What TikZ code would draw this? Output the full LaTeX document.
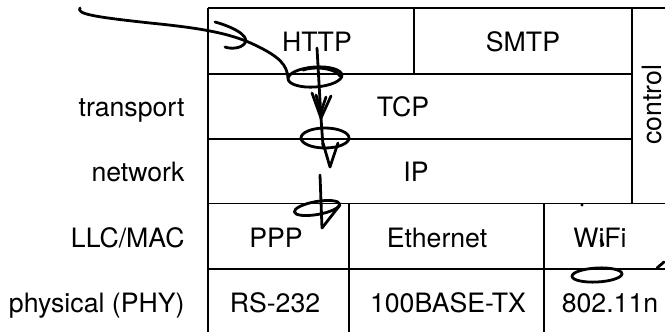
\documentclass[tikz,border=0pt]{standalone}
\usepackage{fontspec}
\setmainfont{TeX Gyre Heros}

\tikzset{every picture/.style={line width=0.75pt}}
\tikzset{
  grid/.style={line width=1.3pt},
  cell/.style={anchor=base,inner sep=0.75pt,font=\fontsize{20}{24}\selectfont},
  lbl/.style={anchor=base east,inner sep=0.75pt,font=\fontsize{20}{24}\selectfont},
  ink/.style={line width=2.1pt,line cap=round,line join=round}
}

\begin{document}
\begin{tikzpicture}[x=0.75pt,y=0.75pt,yscale=-1,xscale=1]
    \useasboundingbox (0,0) rectangle (665,332);
    \clip (0,0) rectangle (665,332);

    %Table Lines
    \draw [grid] (208,8) -- (700,8) ;
    \draw [grid] (208,8) -- (208,340) ;
    \draw [grid] (208,74) -- (632,74) ;
    \draw [grid] (208,139) -- (632,139) ;
    \draw [grid] (208,203.5) -- (700,203.5) ;
    \draw [grid] (208,269) -- (700,269) ;
    \draw [grid] (414,8) -- (414,74) ;
    \draw [grid] (632,8) -- (632,203.5) ;
    \draw [grid] (349,203.5) -- (349,340) ;
    \draw [grid] (544,203.5) -- (544,340) ;

    % Text Node
    \node [lbl] (transport) at (186,116.5) {transport};
    % Text Node
    \node [lbl] (network) at (186,181) {network};
    % Text Node
    \node [lbl] (llcmac) at (186,247) {LLC/MAC};
    % Text Node
    \node [lbl] (physical) at (186,312) {physical (PHY)};
    % Text Node
    \node [cell] (http) at (317,51.5) {HTTP};
    % Text Node
    \node [cell] (smtp) at (523,51.5) {SMTP};
    % Text Node
    \node [cell] (tcp) at (403,116.5) {TCP};
    % Text Node
    \node [cell] (ip) at (416,181) {IP};
    % Text Node
    \node [cell] (ppp) at (276,247) {PPP};
    % Text Node
    \node [cell] (ethernet) at (437,247) {Ethernet};
    % Text Node
    \node [cell] (wifi) at (600,247) {WiFi};
    % Text Node
    \node [cell] (rs232) at (275,312) {RS-232};
    % Text Node
    \node [cell] (base) at (448,312) {100BASE-TX};
    % Text Node
    \node [cell] (wlan) at (610,312) {802.11n};
    % Text Node
    \node [cell,anchor=center,rotate=90] (control) at (652,105) {control};

    %Ink Strokes
    \draw [ink] (80,8) .. controls (76,14) and (95,17) .. (150,23) .. controls (200,28) and (230,33) .. (255,45) .. controls (280,57) and (287,65) .. (288,78) ;
    \draw [ink] (215,22) .. controls (230,26) and (250,35) .. (245,43) .. controls (241,49) and (230,49) .. (225,47) ;
    \draw [ink,rotate around={-4:(315,77)}] (315,77) ellipse [x radius=27, y radius=10] ;
    \draw [ink] (303,70) .. controls (315,66) and (335,68) .. (340,76) ;
    \draw [ink] (317,48) -- (321,118) ;
    \draw [ink] (312,93) -- (321,118) -- (331,96) ;
    \draw [ink] (316,95) -- (321,112) -- (326,97) ;
    \draw [ink] (321,118) -- (323,146) ;
    \draw [ink] (325,138) ellipse [x radius=24, y radius=10] ;
    \draw [ink] (323,143) -- (330,167) -- (338,143) ;
    \draw [ink] (320,175) -- (322,228) ;
    \draw [ink,rotate around={-10:(317,208)}] (317,208) ellipse [x radius=23, y radius=6.5] ;
    \draw [ink] (322,228) -- (340,205) ;
    \draw [ink,rotate around={-3:(597,275)}] (597,275) ellipse [x radius=25, y radius=7] ;
    \fill (582,205) circle [radius=1.6] ;
    \draw [ink] (601,240) -- (603,245) ;
    \draw [ink] (657,268) -- (664,262) ;

\end{tikzpicture}
\end{document}
